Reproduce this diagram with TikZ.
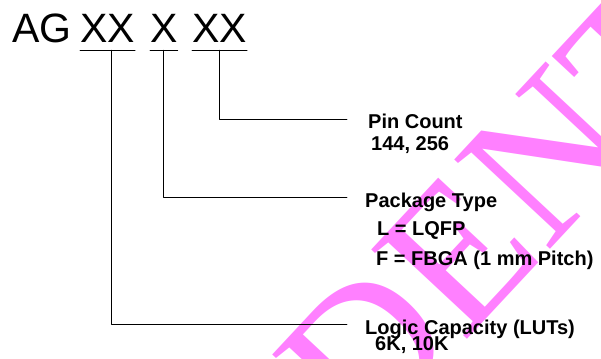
\documentclass[tikz,border=0pt]{standalone}
\usepackage{fontspec}
\setmainfont{Liberation Sans}
\newfontfamily\markfont{Liberation Serif}
\definecolor{markpink}{RGB}{255,128,255}
\tikzset{
  code/.style={anchor=base west,inner sep=0pt,text depth=7pt,font=\fontsize{41}{44}\selectfont},
  head/.style={anchor=west,inner ysep=0pt,inner xsep=18pt,text height=20pt,text depth=0pt,font=\bfseries\fontsize{20}{22}\selectfont},
  item/.style={anchor=base west,inner sep=0pt,font=\bfseries\fontsize{20}{22}\selectfont},
}
\begin{document}
\begin{tikzpicture}[x=1pt,y=-1pt,line join=round,line cap=round]
\useasboundingbox (0,0) rectangle (601,358);
% watermark
\node[markpink,rotate=47,inner sep=0pt,font=\markfont\fontsize{200}{200}\selectfont] (mark) at (408,307) {CONFIDENTIAL};

\node[code] (ag) at (12,43) {AG};
\node[code] (size) at (80,43) {XX};
\node[code] (pack) at (150,43) {X};
\node[code] (pins) at (192,43) {XX};
\draw[line width=0.8pt]
  (size.south west)--(size.south east)
  (pack.south west)--(pack.south east)
  (pins.south west)--(pins.south east);

\node[head,inner xsep=21pt] (pin) at (347,119) {Pin Count};
\node[item] (pinval) at (371,150) {144, 256};
\node[head] (type) at (347,197) {Package Type};
\node[item] (typel) at (377,235) {L = LQFP};
\node[item] (typef) at (376,265) {F = FBGA (1 mm Pitch)};
\node[head] (lut) at (347,324) {Logic Capacity (LUTs)};
\node[item] (lutval) at (375,350) {6K, 10K};

\draw[line width=0.8pt]
  ([xshift=3.5pt]size.south)|-(lut.west)
  (pack.south)|-(type.west)
  (pins.south)|-(pin.west);
\end{tikzpicture}
\end{document}
